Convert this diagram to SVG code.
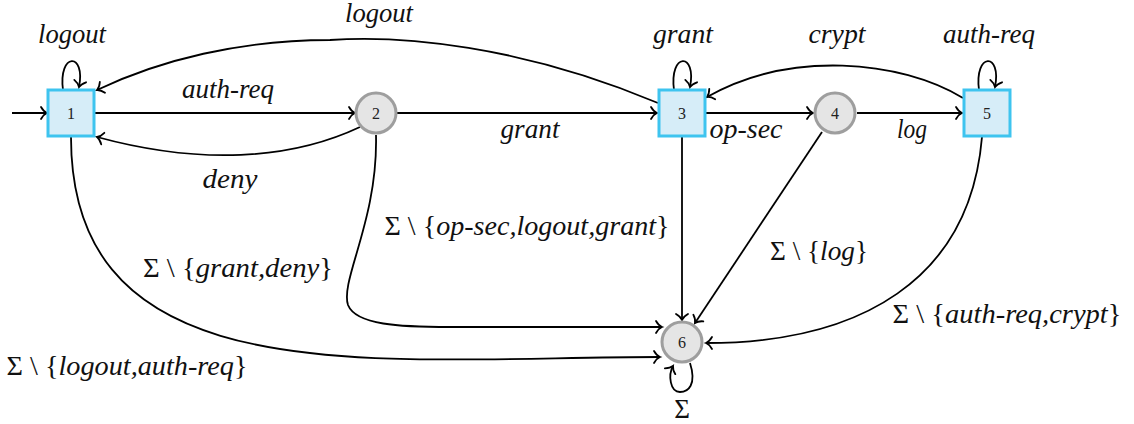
<svg xmlns="http://www.w3.org/2000/svg" width="1134" height="424" viewBox="0 0 1134 424">
<style>
.sq{fill:#d6edf8;stroke:#3ec4ef;stroke-width:3}
.ci{fill:#e5e5e5;stroke:#9e9e9e;stroke-width:3}
.num{font-size:16px;fill:#222;text-anchor:middle}
.e{fill:none;stroke:#000;stroke-width:1.8;marker-end:url(#ar)}
.lb{font-style:italic;font-size:27px;fill:#111;text-anchor:middle}
.up{font-style:normal}
</style>
<defs>
<marker id="ar" markerUnits="userSpaceOnUse" viewBox="-8 -7 10 14" markerWidth="10" markerHeight="14" refX="0" refY="0" orient="auto" overflow="visible">
<path d="M-6,-6 C-4,-2.5 -1.5,-0.6 0,0 C-1.5,0.6 -4,2.5 -6,6" fill="none" stroke="#000" stroke-width="1.8" stroke-linecap="round"/>
</marker>
</defs>
<g id="edges">
<path class="e" d="M12,113 L47,113"/>
<path class="e" d="M95,113 L355,113"/>
<path class="e" d="M360,127 C290,160 200,165 97,137"/>
<path class="e" d="M397,113 L657,113"/>
<path class="e" d="M658,103 C520,45 400,35 330,40 C240,40 160,60 97,90"/>
<path class="e" d="M706,113 L813,113"/>
<path class="e" d="M857,113 L962,113"/>
<path class="e" d="M963,98 C900,60 790,50 707,97"/>
<path class="e" d="M63,90 C58,52 86,52 79,87"/>
<path class="e" d="M674,90 C669,52 697,52 690,87"/>
<path class="e" d="M979,90 C974,52 1002,52 995,87"/>
<path class="e" d="M682,137 L682,320"/>
<path class="e" d="M822,132 L695,323"/>
<path class="e" d="M71,137 C71,400 380,357 660,357"/>
<path class="e" d="M376,135 C378,220 340,280 348,305 C356,325 400,327 450,327 L662,327"/>
<path class="e" d="M982,137 C970,280 860,343 706,343"/>
<path class="e" d="M690,363 C697,385 688,392 680,392 C670,392 668,375 673,366"/>
</g>
<g font-family="Liberation Serif, serif">
<g id="n1"><rect class="sq" x="48" y="90" width="46" height="46"/><text class="num" x="71" y="119">1</text></g>
<g id="n2"><circle class="ci" cx="376" cy="113" r="20"/><text class="num" x="376" y="119">2</text></g>
<g id="n3"><rect class="sq" x="659" y="90" width="46" height="46"/><text class="num" x="682" y="119">3</text></g>
<g id="n4"><circle class="ci" cx="835" cy="113" r="20"/><text class="num" x="835" y="119">4</text></g>
<g id="n5"><rect class="sq" x="964" y="90" width="46" height="46"/><text class="num" x="987" y="119">5</text></g>
<g id="n6"><circle class="ci" cx="682" cy="342" r="20"/><text class="num" x="682" y="348">6</text></g>
<g id="labels">
<text class="lb" x="72" y="43" textLength="68" lengthAdjust="spacingAndGlyphs">logout</text>
<text class="lb" x="379" y="22" textLength="68" lengthAdjust="spacingAndGlyphs">logout</text>
<text class="lb" x="228" y="98" textLength="92" lengthAdjust="spacingAndGlyphs">auth-req</text>
<text class="lb" x="230" y="188" textLength="55" lengthAdjust="spacingAndGlyphs">deny</text>
<text class="lb" x="530" y="138" textLength="59" lengthAdjust="spacingAndGlyphs">grant</text>
<text class="lb" x="683" y="43" textLength="60" lengthAdjust="spacingAndGlyphs">grant</text>
<text class="lb" x="746" y="138" textLength="73" lengthAdjust="spacingAndGlyphs">op-sec</text>
<text class="lb" x="837" y="43" textLength="57" lengthAdjust="spacingAndGlyphs">crypt</text>
<text class="lb" x="989" y="43" textLength="92" lengthAdjust="spacingAndGlyphs">auth-req</text>
<text class="lb" x="912" y="138" textLength="30" lengthAdjust="spacingAndGlyphs">log</text>
<text class="lb" x="238" y="277" textLength="190" lengthAdjust="spacingAndGlyphs"><tspan class="up">Σ \ {</tspan>grant,deny<tspan class="up">}</tspan></text>
<text class="lb" x="127" y="375" textLength="241" lengthAdjust="spacingAndGlyphs"><tspan class="up">Σ \ {</tspan>logout,auth-req<tspan class="up">}</tspan></text>
<text class="lb" x="527" y="235" textLength="285" lengthAdjust="spacingAndGlyphs"><tspan class="up">Σ \ {</tspan>op-sec,logout,grant<tspan class="up">}</tspan></text>
<text class="lb" x="819" y="260" textLength="98" lengthAdjust="spacingAndGlyphs"><tspan class="up">Σ \ {</tspan>log<tspan class="up">}</tspan></text>
<text class="lb" x="1007" y="323" textLength="229" lengthAdjust="spacingAndGlyphs"><tspan class="up">Σ \ {</tspan>auth-req,crypt<tspan class="up">}</tspan></text>
<text class="lb up" x="682" y="418">Σ</text>
</g>
</g>
</svg>
